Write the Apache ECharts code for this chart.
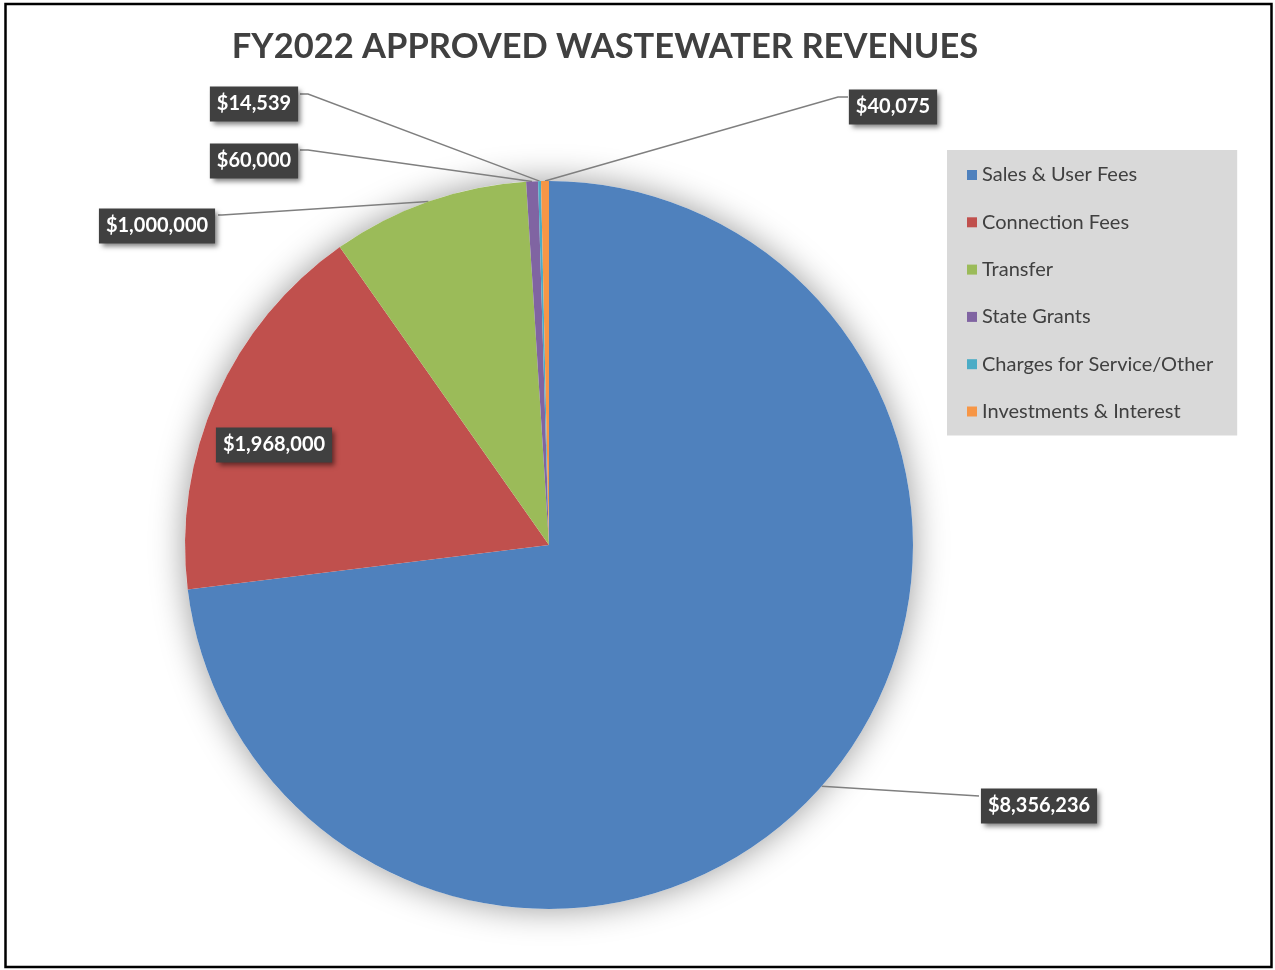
<!DOCTYPE html>
<html lang="en">
<head>
<meta charset="UTF-8">
<title>FY2022 Approved Wastewater Revenues</title>
<script src="https://cdn.jsdelivr.net/npm/echarts@6/dist/echarts.min.js"></script>
<style>
    html, body { margin: 0; padding: 0; background: #fff; }
    #main { width: 1275px; height: 970px; }
</style>
</head>
<body>
<div id="main"></div>
<script>
    var categories = ['Sales & User Fees', 'Connection Fees', 'Transfer', 'State Grants', 'Charges for Service/Other', 'Investments & Interest'];
    var revenues = [8356236, 1968000, 1000000, 60000, 14539, 40075];
    var sliceColors = ['#4f81bd', '#c0504d', '#9bbb59', '#8064a2', '#4bacc6', '#f79646'];

    // value box centres, and where the leader line meets the box (bend = elbow before the box)
    var labelSpots = [
        {x: 1039, y: 806, end: [979, 796]},
        {x: 274, y: 445, end: null},
        {x: 157, y: 226, end: [218, 215], bend: [222, 215]},
        {x: 254, y: 161, end: [300, 150], bend: [308, 150]},
        {x: 254, y: 104, end: [300, 94], bend: [308, 94]},
        {x: 893, y: 107, end: [848, 97], bend: [838, 97]}
    ];

    var total = 0;
    for (var i = 0; i < revenues.length; i++) total += revenues[i];

    var pieData = categories.map(function (name, i) {
        return {
            name: name,
            value: revenues[i],
            itemStyle: {color: sliceColors[i]},
            labelLine: {show: labelSpots[i].end != null}
        };
    });

    var myChart = echarts.init(document.getElementById('main'));

    var option = {
        animation: false,
        title: {
            text: 'FY2022 APPROVED WASTEWATER REVENUES',
            left: 600,
            top: 24,
            textAlign: 'center',
            textStyle: {fontFamily: 'Lato', fontWeight: 'bold', fontSize: 34.5, color: '#404040'}
        },
        legend: {
            orient: 'vertical',
            left: 947,
            top: 150,
            padding: [15, 24, 14, 20],
            itemGap: 27.3,
            itemWidth: 10,
            itemHeight: 10,
            icon: 'rect',
            backgroundColor: '#d9d9d9',
            itemStyle: {shadowBlur: 0, shadowColor: 'transparent'},
            textStyle: {fontFamily: 'Lato', fontSize: 20, color: '#404040', lineHeight: 20},
            data: categories
        },
        graphic: [{
            type: 'rect',
            silent: true,
            shape: {x: 5.5, y: 4, width: 1266, height: 963},
            style: {fill: 'none', stroke: '#000', lineWidth: 2.5}
        }],
        series: [
            {
                // white disc under the slices that carries the soft shadow
                type: 'pie',
                silent: true,
                z: 1,
                center: [549, 545],
                radius: 364,
                label: {show: false},
                labelLine: {show: false},
                data: [{value: total, name: '', itemStyle: {color: '#fff', shadowBlur: 34, shadowColor: 'rgba(0,0,0,0.4)'}}]
            },
            {
                name: 'Revenues',
                type: 'pie',
                z: 2,
                center: [549, 545],
                radius: 364,
                startAngle: 90,
                clockwise: true,
                avoidLabelOverlap: false,
                emphasis: {disabled: true},
                itemStyle: {borderWidth: 0},
                label: {
                    show: true,
                    position: 'outside',
                    formatter: function (p) { return '$' + p.value.toLocaleString('en-US'); },
                    color: '#fff',
                    fontFamily: 'Lato',
                    fontWeight: 'bold',
                    fontSize: 20,
                    lineHeight: 23,
                    backgroundColor: '#404040',
                    padding: [6, 7],
                    shadowBlur: 5,
                    shadowColor: 'rgba(0,0,0,0.5)',
                    shadowOffsetX: 3,
                    shadowOffsetY: 3
                },
                labelLine: {
                    show: true,
                    smooth: false,
                    lineStyle: {color: '#7f7f7f', width: 1.5}
                },
                labelLayout: function (p) {
                    var s = labelSpots[p.dataIndex];
                    var out = {x: s.x, y: s.y, align: 'center', verticalAlign: 'middle'};
                    if (s.end && p.labelLinePoints) {
                        var anchor = p.labelLinePoints[0];
                        out.labelLinePoints = s.bend ? [anchor, s.bend, s.end] : [anchor, s.end, s.end];
                    }
                    return out;
                },
                data: pieData
            }
        ]
    };

    myChart.setOption(option);
</script>
</body>
</html>
